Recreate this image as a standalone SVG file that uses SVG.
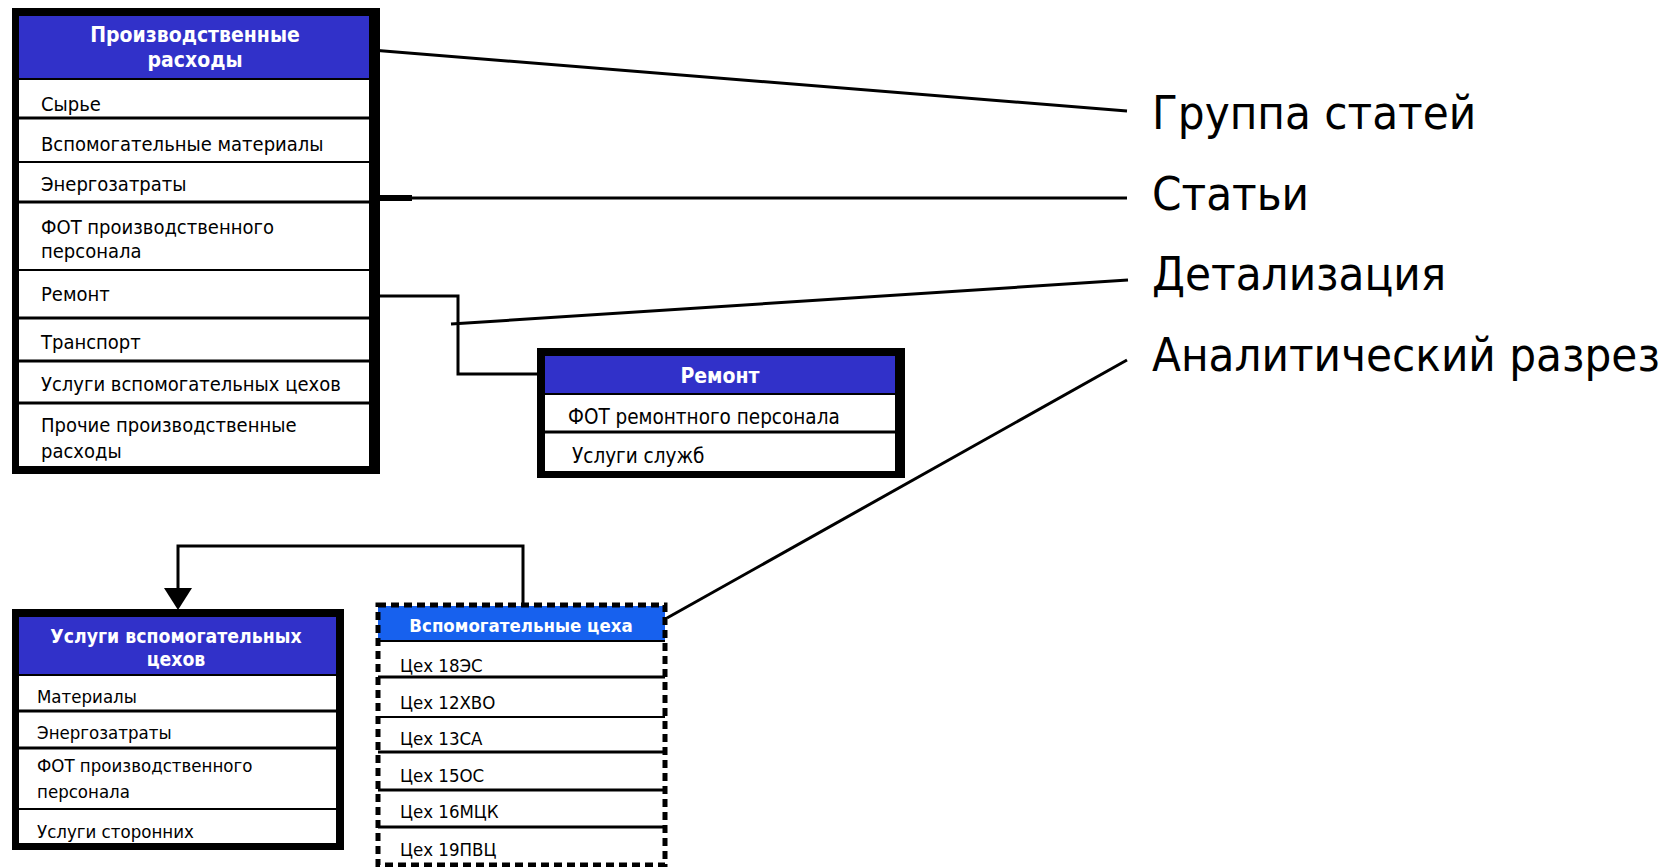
<svg xmlns="http://www.w3.org/2000/svg" width="1667" height="867" viewBox="0 0 1667 867">
<defs>
<style>
.frame{fill:#000}
.cell{fill:#fff}
.hdr{fill:#3131C9}
.hdr2{fill:#1761EE}
.sep{stroke:#000;stroke-width:3}
.sep2{stroke:#000;stroke-width:2}
.t{font-family:"DejaVu Sans Condensed","DejaVu Sans",sans-serif;font-size:20px;fill:#000}
.tr{font-family:"DejaVu Sans Condensed","DejaVu Sans",sans-serif;font-size:20.5px;fill:#000}
.ts{font-family:"DejaVu Sans Condensed","DejaVu Sans",sans-serif;font-size:18.5px;fill:#000}
.h{font-family:"DejaVu Sans Condensed","DejaVu Sans",sans-serif;font-size:21px;font-weight:bold;fill:#fff;text-anchor:middle}
.hm{font-family:"DejaVu Sans Condensed","DejaVu Sans",sans-serif;font-size:19.3px;font-weight:bold;fill:#fff;text-anchor:middle}
.hs{font-family:"DejaVu Sans Condensed","DejaVu Sans",sans-serif;font-size:18.5px;font-weight:bold;fill:#fff;text-anchor:middle}
.big{font-family:"DejaVu Sans Condensed","DejaVu Sans",sans-serif;font-size:47px;fill:#000}
.ln{stroke:#000;stroke-width:3;fill:none}
.thk{stroke:#000;stroke-width:6;fill:none}
</style>
</defs>
<rect width="1667" height="867" fill="#fff"/>

<g id="connectors">
<line class="ln" x1="347" y1="48" x2="1127" y2="111"/>
<line class="thk" x1="345" y1="47" x2="368" y2="49"/>
<line class="ln" x1="345" y1="198" x2="1127" y2="198"/>
<line class="thk" x1="345" y1="198" x2="412" y2="198"/>
<line class="ln" x1="451" y1="324" x2="1128" y2="280"/>
<line class="ln" x1="667" y1="618" x2="1127" y2="360"/>
<polyline class="ln" points="379,296 458,296 458,374 537,374"/>
<polyline class="ln" points="523,604 523,546 178,546 178,590"/>
<path d="M164,588 L192,588 L178,610 Z" fill="#000"/>
</g>

<g id="node-main">
<rect class="frame" x="12" y="8" width="368" height="466"/>
<rect class="cell" x="19" y="16" width="350" height="450"/>
<rect class="hdr" x="19" y="16" width="350" height="62"/>
<line class="sep2" x1="19" y1="79" x2="369" y2="79"/>
<line class="sep" x1="19" y1="118" x2="369" y2="118"/>
<line class="sep2" x1="19" y1="162" x2="369" y2="162"/>
<line class="sep" x1="19" y1="202" x2="369" y2="202"/>
<line class="sep2" x1="19" y1="270" x2="369" y2="270"/>
<line class="sep" x1="19" y1="318" x2="369" y2="318"/>
<line class="sep" x1="19" y1="361" x2="369" y2="361"/>
<line class="sep" x1="19" y1="403" x2="369" y2="403"/>
<text class="h" x="195" y="42">Производственные</text>
<text class="h" x="195" y="67">расходы</text>
<text class="t" x="41" y="111">Сырье</text>
<text class="t" x="41" y="151">Вспомогательные материалы</text>
<text class="t" x="41" y="191">Энергозатраты</text>
<text class="t" x="41" y="234">ФОТ производственного</text>
<text class="t" x="41" y="258">персонала</text>
<text class="t" x="41" y="301">Ремонт</text>
<text class="t" x="41" y="349">Транспорт</text>
<text class="t" x="41" y="391">Услуги вспомогательных цехов</text>
<text class="t" x="41" y="432">Прочие производственные</text>
<text class="t" x="41" y="458">расходы</text>
</g>

<g id="node-remont">
<rect class="frame" x="537" y="348" width="368" height="130"/>
<rect class="cell" x="545" y="356" width="350" height="115"/>
<rect class="hdr" x="545" y="356" width="350" height="37"/>
<line class="sep2" x1="545" y1="394" x2="895" y2="394"/>
<line class="sep" x1="545" y1="432" x2="895" y2="432"/>
<text class="h" x="720" y="383">Ремонт</text>
<text class="tr" x="568" y="424">ФОТ ремонтного персонала</text>
<text class="tr" x="572" y="463">Услуги служб</text>
</g>

<g id="node-services">
<rect class="frame" x="12" y="609" width="332" height="241"/>
<rect class="cell" x="19" y="617" width="317" height="226"/>
<rect class="hdr" x="19" y="617" width="317" height="58"/>
<line class="sep2" x1="19" y1="675" x2="336" y2="675"/>
<line class="sep" x1="19" y1="711" x2="336" y2="711"/>
<line class="sep" x1="19" y1="748" x2="336" y2="748"/>
<line class="sep2" x1="19" y1="809" x2="336" y2="809"/>
<text class="hm" x="176" y="643">Услуги вспомогательных</text>
<text class="hm" x="176" y="666">цехов</text>
<text class="ts" x="37" y="703">Материалы</text>
<text class="ts" x="37" y="739">Энергозатраты</text>
<text class="ts" x="37" y="772">ФОТ производственного</text>
<text class="ts" x="37" y="798">персонала</text>
<text class="ts" x="37" y="838">Услуги сторонних</text>
</g>

<g id="node-shops">
<rect class="cell" x="378" y="605" width="287" height="260"/>
<rect class="hdr2" x="378" y="606" width="287" height="34"/>
<line class="sep2" x1="378" y1="641" x2="665" y2="641"/>
<line class="sep" x1="378" y1="677" x2="665" y2="677"/>
<line class="sep2" x1="378" y1="717" x2="665" y2="717"/>
<line class="sep" x1="378" y1="752" x2="665" y2="752"/>
<line class="sep" x1="378" y1="790" x2="665" y2="790"/>
<line class="sep" x1="378" y1="827" x2="665" y2="827"/>
<rect x="378" y="605" width="287" height="260" fill="none" stroke="#000" stroke-width="5" stroke-dasharray="8 5"/>
<text class="hs" x="521" y="632">Вспомогательные цеха</text>
<text class="ts" x="400" y="672">Цех 18ЭС</text>
<text class="ts" x="400" y="709">Цех 12ХВО</text>
<text class="ts" x="400" y="745">Цех 13СА</text>
<text class="ts" x="400" y="782">Цех 15ОС</text>
<text class="ts" x="400" y="818">Цех 16МЦК</text>
<text class="ts" x="400" y="856">Цех 19ПВЦ</text>
</g>

<g id="legend">
<text class="big" x="1152" y="129">Группа статей</text>
<text class="big" x="1152" y="210">Статьи</text>
<text class="big" x="1152" y="290">Детализация</text>
<text class="big" x="1152" y="371">Аналитический разрез</text>
</g>
</svg>
